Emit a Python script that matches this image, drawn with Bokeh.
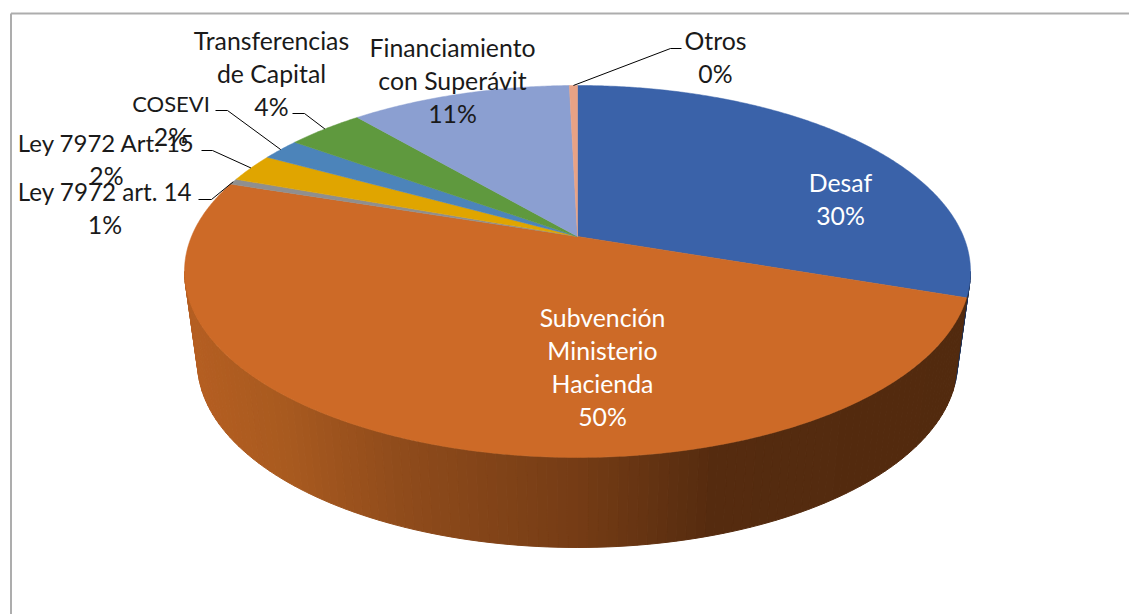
import numpy as np
from bokeh.plotting import figure
from bokeh.models import Range1d
from bokeh.core.properties import value
from bokeh.embed import file_html
from bokeh.resources import INLINE

# ---- data ----
categories = ["Desaf", "Subvención Ministerio Hacienda", "Ley 7972 art. 14", "Ley 7972 Art. 15",
              "COSEVI", "Transferencias de Capital", "Financiamiento con Superávit", "Otros"]
shares = [30.2, 49.8, 0.5, 2.5, 1.9, 3.8, 10.9, 0.4]
percent_labels = ["30%", "50%", "1%", "2%", "2%", "4%", "11%", "0%"]
slice_colors = ["#3a62a9", "#cd6a27", "#8f8f8f", "#e0a500", "#4c84ba", "#5f993e", "#8b9fd1", "#e8a285"]

# ---- layout ----
CX, CY = 577.0, 236.0
A, B, K = 386.0, 179.4, 0.188          # perspective projection of the pie's top face
TOP_E = (577.0, 271.0, 393.0, 186.0)   # ellipse of the top rim
BOT_E = (577.0, 362.0, 380.0, 185.0)   # ellipse of the bottom rim
FONT = "Lato"
FS = "24.8px"

p = figure(width=1129, height=614, output_backend="svg", toolbar_location=None,
           x_range=Range1d(0, 1129), y_range=Range1d(614, 0),
           x_axis_type=None, y_axis_type=None, min_border=0, outline_line_color=None,
           background_fill_color="white", border_fill_color="white")
p.grid.visible = False


def project(theta):
    u, v = np.sin(theta), np.cos(theta)
    w = 1 + K * v
    return CX + A * u / w, CY - B * v / w


def rim_angle(theta):
    """ellipse parameter of the rim point of a pie angle"""
    x, y = project(theta)
    return np.arctan2((x - TOP_E[0]) / TOP_E[2], -(y - TOP_E[1]) / TOP_E[3])


edges = np.cumsum([0] + shares) / sum(shares) * 2 * np.pi

# frame
p.line([10.5, 10.5], [614, 13], line_color="#adadad", line_width=2)
p.line([10.5, 1129], [13, 13], line_color="#adadad", line_width=2)


# side wall: thin vertical bands, shaded left to right
def mix(stops, t):
    ts = [s[0] for s in stops]
    return "#%02x%02x%02x" % tuple(int(round(np.interp(t, ts, [s[1][i] for s in stops]))) for i in range(3))


orange_stops = [(-1.0, (0xb5, 0x5e, 0x21)), (-0.75, (0xa8, 0x5a, 0x1f)), (-0.45, (0x8f, 0x4b, 0x1b)),
                (0.0, (0x75, 0x3c, 0x15)), (0.35, (0x55, 0x2b, 0x0f)), (1.0, (0x52, 0x2a, 0x0e))]
blue_side = "#1d3157"

phi_split = rim_angle(edges[1]) % (2 * np.pi)
phis = np.radians(np.arange(90, 270.01, 1.5))
xs, ys, cols = [], [], []
for a, b in zip(phis[:-1], phis[1:]):
    m = (a + b) / 2
    qx = [TOP_E[0] + TOP_E[2] * np.sin(a), TOP_E[0] + TOP_E[2] * np.sin(b),
          BOT_E[0] + BOT_E[2] * np.sin(b), BOT_E[0] + BOT_E[2] * np.sin(a)]
    qy = [TOP_E[1] - TOP_E[3] * np.cos(a), TOP_E[1] - TOP_E[3] * np.cos(b),
          BOT_E[1] - BOT_E[3] * np.cos(b), BOT_E[1] - BOT_E[3] * np.cos(a)]
    xs.append(qx)
    ys.append(qy)
    cols.append(blue_side if m < phi_split else mix(orange_stops, np.sin(m)))
p.patches(xs, ys, fill_color=cols, line_color=cols, line_width=1)

# top face
for i, col in enumerate(slice_colors):
    th = np.linspace(edges[i], edges[i + 1], max(4, int((edges[i + 1] - edges[i]) * 120)))
    x, y = project(th)
    p.patch(np.r_[CX, x], np.r_[CY, y], fill_color=col, line_color=col, line_width=0.5)

# leader lines: label end, elbow, then the middle of the slice's rim
leaders = {2: [(198, 199), (211, 199)], 3: [(201, 150), (212, 150)], 4: [(215, 110), (227, 110)],
           5: [(292, 113), (304, 113)], 7: [(681, 48), (670, 48)]}
for i, pts in leaders.items():
    ex, ey = project((edges[i] + edges[i + 1]) / 2)
    p.line([q[0] for q in pts] + [float(ex)], [q[1] for q in pts] + [float(ey)],
           line_color="#000000", line_width=1)


def label(cx, mid_y, lines, color, size=FS):
    for j, t in enumerate(lines):
        p.text([cx], [mid_y - 1.5 + j * 33], text=[t], text_font=value(FONT),
               text_font_size=size if j == 0 else FS,
               text_color=color, text_align="center", text_baseline="middle")


DARK = "#1a1a1a"
label(840, 183, [categories[0], percent_labels[0]], "white")
label(602, 318, ["Subvención", "Ministerio", "Hacienda", percent_labels[1]], "white")
label(104.5, 192, [categories[2], percent_labels[2]], DARK, "24.2px")
label(106, 143, [categories[3], percent_labels[3]], DARK, "24px")
label(170.5, 104, [categories[4], percent_labels[4]], DARK, "22px")
label(271, 41, ["Transferencias", "de Capital", percent_labels[5]], DARK)
label(452, 48, ["Financiamiento", "con Superávit", percent_labels[6]], DARK)
label(715, 41, [categories[7], percent_labels[7]], DARK)

open("out.html", "w").write(file_html(p, INLINE))
